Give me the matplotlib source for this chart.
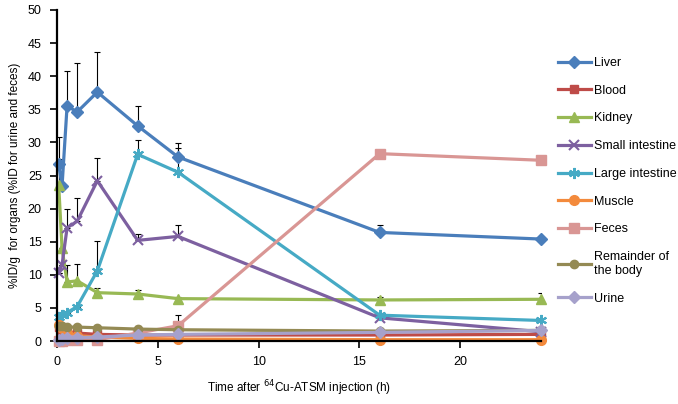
import matplotlib
matplotlib.use("Agg")
import matplotlib.pyplot as plt
import numpy as np

plt.rcParams['font.family'] = ['Liberation Sans', 'DejaVu Sans']

t = [0.083, 0.25, 0.5, 1, 2, 4, 6, 16, 24]

liver = [26.7, 23.4, 35.5, 34.6, 37.6, 32.5, 27.8, 16.4, 15.4]
liver_err = [4.1, 0, 5.3, 7.4, 6.0, 3.0, 2.1, 1.1, 0]
blood = [2.1, 1.7, 1.4, 1.2, 1.0, 0.9, 0.9, 0.9, 1.0]
blood_err = [0.3, 0.2, 0.2, 0.1, 0.1, 0.1, 0.1, 0.1, 0.1]
kidney = [23.6, 14.0, 8.9, 9.1, 7.3, 7.1, 6.4, 6.2, 6.3]
kidney_err = [3.9, 0, 2.6, 2.5, 0.7, 0.6, 0.3, 0.5, 1.0]
small_int = [10.3, 11.5, 17.1, 18.1, 24.2, 15.2, 15.8, 3.5, 1.4]
small_int_err = [0, 0, 2.8, 3.5, 3.5, 1.0, 1.7, 0, 0]
large_int = [3.6, 3.9, 4.3, 5.2, 10.6, 28.2, 25.5, 3.9, 3.1]
large_int_err = [0, 0, 0, 0, 4.5, 2.2, 3.6, 0.3, 0]
muscle = [2.4, 1.9, 1.2, 0.8, 0.6, 0.4, 0.3, 0.2, 0.2]
feces = [0.0, 0.0, 0.1, 0.2, 0.2, 1.2, 2.3, 28.3, 27.3]
feces_err = [0, 0, 0, 0, 0, 0.3, 1.6, 0, 0]
remainder = [2.3, 2.2, 2.1, 2.1, 2.0, 1.8, 1.7, 1.5, 1.6]
remainder_err = [0, 0, 0, 0, 0, 0.4, 0, 0, 0]
urine = [0.1, 0.3, 0.4, 0.5, 0.6, 0.9, 1.0, 1.3, 1.6]

series = [
    ("Liver", liver, liver_err, "#4A7EBB", "D", 6),
    ("Blood", blood, blood_err, "#BE4B48", "s", 6),
    ("Kidney", kidney, kidney_err, "#98B954", "^", 7),
    ("Small intestine", small_int, small_int_err, "#7D60A0", "x", 7),
    ("Large intestine", large_int, large_int_err, "#46AAC5", (6, 2, 0), 8),
    ("Muscle", muscle, None, "#F38A3C", "o", 7),
    ("Feces", feces, feces_err, "#D99694", "s", 7),
    ("Remainder of\nthe body", remainder, remainder_err, "#948A54", "o", 6),
    ("Urine", urine, None, "#A6A1CB", "D", 6),
]

fig = plt.figure(figsize=(6.78, 4.04), dpi=100)
ax = fig.add_axes([57/678, 1-341/404, (541-57)/678, (341-10)/404])

handles = []
for name, vals, err, col, mk, ms in series:
    if err is not None:
        ax.errorbar(t, vals, yerr=[np.zeros(len(err)), err], fmt='none',
                    ecolor='black', elinewidth=0.8, capsize=2.5, capthick=0.8,
                    zorder=1)
    mew = 1.5 if mk in ("x",) or isinstance(mk, tuple) else 1
    h, = ax.plot(t, vals, color=col, lw=2.3, marker=mk, markersize=ms,
                 markeredgewidth=mew, markerfacecolor=col, markeredgecolor=col,
                 label=name, zorder=2, clip_on=False)
    handles.append(h)

ax.set_xlim(0, 24)
ax.set_ylim(0, 50)
ax.set_xticks([0, 5, 10, 15, 20])
ax.set_yticks(range(0, 51, 5))
for s in ['top', 'right']:
    ax.spines[s].set_visible(False)
for s in ['left', 'bottom']:
    ax.spines[s].set_linewidth(1.6)
ax.tick_params(direction='out', length=5, width=1.2, labelsize=9, pad=6)

ax.set_xlabel("Time after $^{64}$Cu-ATSM injection (h)", fontsize=8.5, labelpad=7)
ax.set_ylabel("%ID/g  for organs (%ID for urine and feces)", fontsize=8.5, labelpad=5)

fig.legend(handles=handles, loc='upper left', bbox_to_anchor=(553/678, 1-52/404),
           frameon=False, fontsize=9, labelspacing=1.26, handlelength=2.6,
           handletextpad=0.3, borderaxespad=0)

fig.savefig("out.png", dpi=100)
